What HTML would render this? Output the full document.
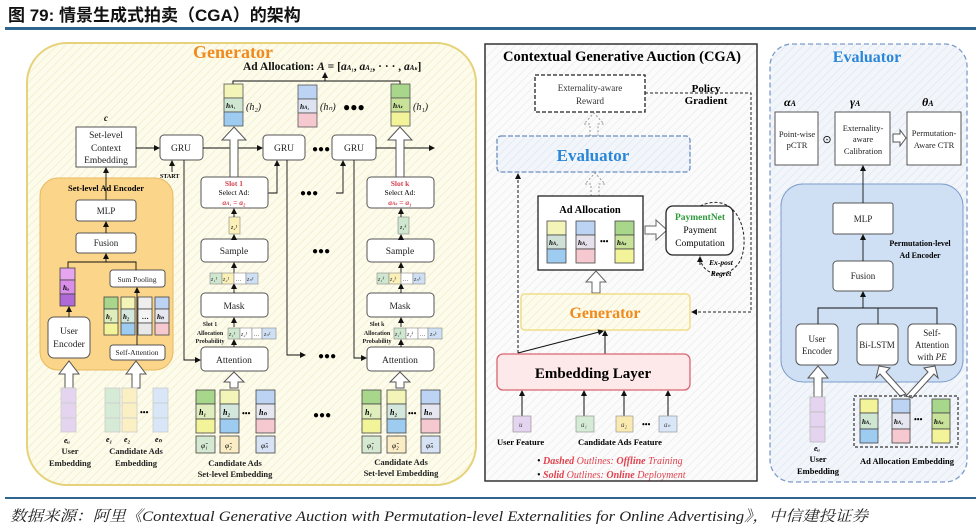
<!DOCTYPE html>
<html><head><meta charset="utf-8"><style>
html,body{margin:0;padding:0;background:#fff;width:976px;height:532px;overflow:hidden}
svg{display:block}
text{font-family:"Liberation Serif",serif}
</style></head><body>
<svg width="976" height="532" viewBox="0 0 976 532" xmlns="http://www.w3.org/2000/svg">
<defs>
<marker id="a" markerWidth="6" markerHeight="6" refX="5" refY="3" orient="auto" markerUnits="userSpaceOnUse"><path d="M0,0 L6,3 L0,6z" fill="#111"/></marker>
<pattern id="hy" width="6" height="6" patternUnits="userSpaceOnUse" patternTransform="rotate(45)"><rect width="6" height="6" fill="#fdfcec"/><line x1="0" y1="0" x2="0" y2="6" stroke="#f1ecc6" stroke-width="1.5"/></pattern>
<pattern id="hg" width="6" height="6" patternUnits="userSpaceOnUse" patternTransform="rotate(45)"><rect width="6" height="6" fill="#fbfbfb"/><line x1="0" y1="0" x2="0" y2="6" stroke="#ececec" stroke-width="1.5"/></pattern>
<pattern id="hb" width="6" height="6" patternUnits="userSpaceOnUse" patternTransform="rotate(45)"><rect width="6" height="6" fill="#f2f6fb"/><line x1="0" y1="0" x2="0" y2="6" stroke="#dfe7f2" stroke-width="1.5"/></pattern>
</defs>

<!-- header -->
<text x="8" y="21" font-weight="bold" font-size="17" fill="#111" style="font-family:'Liberation Sans','Noto Sans CJK SC',sans-serif">图 79: 情景生成式拍卖（CGA）的架构</text>
<rect x="5" y="27" width="971" height="3" fill="#2f6690"/>
<rect x="5" y="497" width="971" height="2" fill="#2f6690"/>
<text x="10" y="521" font-size="15" font-style="italic" fill="#222" textLength="858" lengthAdjust="spacingAndGlyphs" style="font-family:'Liberation Serif','Noto Serif CJK SC',serif">数据来源：阿里《Contextual Generative Auction with Permutation-level Externalities for Online Advertising》，中信建投证券</text>

<!-- ============ GENERATOR PANEL ============ -->
<rect x="27" y="43" width="449" height="442" rx="40" fill="url(#hy)" stroke="#e6d27a" stroke-width="2"/>
<text x="233" y="58" font-size="18" font-weight="bold" fill="#f08a1c" text-anchor="middle">Generator</text>
<text x="243" y="70" font-size="11.5" font-weight="bold" fill="#111">Ad Allocation: <tspan font-style="italic">A</tspan> = [<tspan font-style="italic">a</tspan><tspan font-size="7" font-style="italic">A₁</tspan>, <tspan font-style="italic">a</tspan><tspan font-size="7" font-style="italic">A₂</tspan>, · · · , <tspan font-style="italic">a</tspan><tspan font-size="7" font-style="italic">Aₖ</tspan>]</text>
<polyline points="233,84 233,81 400,81 400,84" fill="none" stroke="#111" stroke-width="1"/>
<line x1="325" y1="81" x2="325" y2="73" stroke="#111" marker-end="url(#a)"/>

<!-- top columns -->
<g stroke="#555" stroke-width="0.8">
<rect x="224" y="84" width="19" height="14" fill="#f3f4b8"/><rect x="224" y="98" width="19" height="14" fill="#cfe6d3"/><rect x="224" y="112" width="19" height="14" fill="#9ecbf0"/>
<rect x="298" y="85" width="19" height="14" fill="#bcd3f3"/><rect x="298" y="99" width="19" height="14" fill="#dde3f0"/><rect x="298" y="113" width="19" height="14" fill="#f6c9d1"/>
<rect x="391" y="84" width="19" height="14" fill="#a8d78c"/><rect x="391" y="98" width="19" height="14" fill="#c8e29a"/><rect x="391" y="112" width="19" height="14" fill="#f3f39a"/>
</g>
<g font-size="7.5" font-weight="bold" font-style="italic" fill="#111">
<text x="226" y="108">h<tspan font-size="5">A₁</tspan></text><text x="300" y="109">h<tspan font-size="5">A₂</tspan></text><text x="393" y="108">h<tspan font-size="5">Aₖ</tspan></text>
</g>
<g font-size="10" font-style="italic" fill="#111"><text x="246" y="110">(h₂)</text><text x="320" y="110">(hₙ)</text><text x="413" y="110">(h₁)</text></g>
<text x="343" y="111" font-size="12" font-weight="bold">●●●</text>

<!-- context + GRUs -->
<text x="104" y="121" font-size="9" font-weight="bold" font-style="italic">c</text>
<rect x="76" y="127" width="60" height="40" fill="#fff" stroke="#555"/>
<g font-size="9.5" text-anchor="middle" fill="#222"><text x="106" y="138">Set-level</text><text x="106" y="151">Context</text><text x="106" y="163">Embedding</text></g>
<g fill="#fff" stroke="#555"><rect x="160" y="135" width="43" height="25" rx="4"/><rect x="263" y="135" width="42" height="25" rx="4"/><rect x="332" y="135" width="44" height="25" rx="4"/></g>
<g font-size="9.5" text-anchor="middle" fill="#222"><text x="181" y="151">GRU</text><text x="284" y="151">GRU</text><text x="354" y="151">GRU</text></g>
<text x="312" y="152" font-size="10" font-weight="bold">●●●</text>
<g stroke="#111" stroke-width="0.9" fill="none" marker-end="url(#a)">
<line x1="136" y1="148" x2="159" y2="148"/><line x1="203" y1="148" x2="262" y2="148"/><line x1="376" y1="148" x2="434" y2="148"/>
<line x1="172" y1="172" x2="172" y2="161"/>
<polyline points="268,193 277,193 277,161"/><polyline points="336,193 343,193 343,161"/>
<polyline points="184,160 184,360 200,360"/><polyline points="287,160 287,355 305,355"/><polyline points="354,160 354,358 366,358"/>
</g>
<text x="160" y="178" font-size="6" font-weight="bold">START</text>

<!-- hollow arrows to top -->
<g fill="#fff" stroke="#555" stroke-width="1">
<polygon points="230,177 230,140 222,140 234,127 246,140 238,140 238,177"/>
<polygon points="396,177 396,140 388,140 400,127 412,140 404,140 404,177"/>
</g>

<!-- Slot boxes -->
<g fill="#fff" stroke="#555"><rect x="201" y="177" width="67" height="31" rx="4"/><rect x="367" y="177" width="67" height="31" rx="4"/></g>
<g font-size="7.5" text-anchor="middle">
<text x="234" y="186" fill="#d2404f" font-weight="bold">Slot 1</text><text x="234" y="195">Select Ad:</text><text x="234" y="205" fill="#d2404f" font-style="italic" font-weight="bold">a<tspan font-size="5">A₁</tspan> = a₂</text>
<text x="400" y="186" fill="#d2404f" font-weight="bold">Slot k</text><text x="400" y="195">Select Ad:</text><text x="400" y="205" fill="#d2404f" font-style="italic" font-weight="bold">a<tspan font-size="5">Aₖ</tspan> = a₁</text>
</g>
<text x="300" y="196" font-size="10" font-weight="bold">●●●</text>
<text x="312" y="254" font-size="10" font-weight="bold">●●●</text>
<g stroke="#888" stroke-width="0.6"><rect x="229" y="217" width="11" height="17" fill="#faf0b8"/><rect x="398" y="217" width="11" height="17" fill="#cfe6cf"/></g>
<g font-size="6" font-style="italic"><text x="231" y="229">z₂¹</text><text x="400" y="229">z₁ᵏ</text></g>

<!-- Sample/Mask/Attention both slots -->
<g fill="#fff" stroke="#555">
<rect x="201" y="239" width="67" height="23" rx="4"/><rect x="201" y="293" width="67" height="24" rx="4"/><rect x="201" y="347" width="67" height="24" rx="4"/>
<rect x="367" y="239" width="67" height="23" rx="4"/><rect x="367" y="293" width="67" height="24" rx="4"/><rect x="367" y="347" width="67" height="24" rx="4"/>
</g>
<g font-size="9.5" text-anchor="middle" fill="#222">
<text x="234" y="254">Sample</text><text x="234" y="309">Mask</text><text x="234" y="363">Attention</text>
<text x="400" y="254">Sample</text><text x="400" y="309">Mask</text><text x="400" y="363">Attention</text>
</g>
<g stroke="#111" stroke-width="0.9" marker-end="url(#a)">
<line x1="234" y1="217" x2="234" y2="209"/><line x1="234" y1="239" x2="234" y2="235"/><line x1="234" y1="273" x2="234" y2="263"/><line x1="234" y1="293" x2="234" y2="284"/><line x1="234" y1="327" x2="234" y2="318"/><line x1="234" y1="347" x2="234" y2="340"/>
<line x1="401" y1="217" x2="401" y2="209"/><line x1="401" y1="239" x2="401" y2="235"/><line x1="401" y1="273" x2="401" y2="263"/><line x1="401" y1="293" x2="401" y2="284"/><line x1="401" y1="327" x2="401" y2="318"/><line x1="401" y1="347" x2="401" y2="340"/>
</g>
<!-- z rows -->
<g stroke="#888" stroke-width="0.6">
<rect x="210" y="273" width="12" height="11" fill="#cfe6cf"/><rect x="222" y="273" width="12" height="11" fill="#faf0b8"/><rect x="234" y="273" width="12" height="11" fill="#fff"/><rect x="246" y="273" width="12" height="11" fill="#cfe0f5"/>
<rect x="228" y="328" width="12" height="11" fill="#cfe6cf"/><rect x="240" y="328" width="12" height="11" fill="#fff"/><rect x="252" y="328" width="10" height="11" fill="#fff"/><rect x="262" y="328" width="14" height="11" fill="#cfe0f5"/>
<rect x="377" y="273" width="12" height="11" fill="#cfe6cf"/><rect x="389" y="273" width="12" height="11" fill="#faf0b8"/><rect x="401" y="273" width="12" height="11" fill="#fff"/><rect x="413" y="273" width="12" height="11" fill="#cfe0f5"/>
<rect x="394" y="328" width="12" height="11" fill="#cfe6cf"/><rect x="406" y="328" width="12" height="11" fill="#fff"/><rect x="418" y="328" width="10" height="11" fill="#fff"/><rect x="428" y="328" width="14" height="11" fill="#cfe0f5"/>
</g>
<g font-size="6" font-style="italic" fill="#333">
<text x="211" y="281">z₁¹</text><text x="223" y="281">z₂¹</text><text x="236" y="281">…</text><text x="247" y="281">zₙ¹</text>
<text x="229" y="336">z₁¹</text><text x="241" y="336">z₂¹</text><text x="254" y="336">…</text><text x="264" y="336">zₙ¹</text>
<text x="378" y="281">z₁ᵏ</text><text x="390" y="281">z₂ᵏ</text><text x="403" y="281">…</text><text x="414" y="281">zₙᵏ</text>
<text x="395" y="336">z₁ᵏ</text><text x="407" y="336">z₂ᵏ</text><text x="420" y="336">…</text><text x="430" y="336">zₙᵏ</text>
</g>
<g font-size="6" font-weight="bold" text-anchor="middle" fill="#222">
<text x="210" y="326">Slot 1</text><text x="210" y="335">Allocation</text><text x="210" y="343">Probability</text>
<text x="377" y="326">Slot k</text><text x="377" y="335">Allocation</text><text x="377" y="343">Probability</text>
</g>
<text x="318" y="359" font-size="10" font-weight="bold">●●●</text>
<text x="313" y="418" font-size="10" font-weight="bold">●●●</text>

<!-- hollow arrows to attention -->
<g fill="#fff" stroke="#555">
<polygon points="230,388 230,382 224,382 234,372 244,382 238,382 238,388"/>
<polygon points="396,388 396,382 390,382 400,372 410,382 404,382 404,388"/>
</g>
<g stroke="#444" stroke-width="0.8">
<rect x="196" y="390" width="19" height="14" fill="#a8d78c"/><rect x="196" y="404" width="19" height="15" fill="#dfeebc"/><rect x="196" y="419" width="19" height="14" fill="#f3f39a"/>
<rect x="220" y="390" width="19" height="14" fill="#f3f4b8"/><rect x="220" y="404" width="19" height="15" fill="#d4e7dc"/><rect x="220" y="419" width="19" height="14" fill="#9ecbf0"/>
<rect x="256" y="390" width="19" height="14" fill="#bcd3f3"/><rect x="256" y="404" width="19" height="15" fill="#e6e6f0"/><rect x="256" y="419" width="19" height="14" fill="#f6c9d1"/>
<rect x="196" y="436" width="19" height="17" fill="#d5e8d2"/><rect x="220" y="436" width="19" height="17" fill="#faecc4"/><rect x="256" y="436" width="19" height="17" fill="#d7e3f5"/>
<rect x="362" y="390" width="19" height="14" fill="#a8d78c"/><rect x="362" y="404" width="19" height="15" fill="#dfeebc"/><rect x="362" y="419" width="19" height="14" fill="#f3f39a"/>
<rect x="387" y="390" width="19" height="14" fill="#f3f4b8"/><rect x="387" y="404" width="19" height="15" fill="#d4e7dc"/><rect x="387" y="419" width="19" height="14" fill="#9ecbf0"/>
<rect x="421" y="390" width="19" height="14" fill="#bcd3f3"/><rect x="421" y="404" width="19" height="15" fill="#e6e6f0"/><rect x="421" y="419" width="19" height="14" fill="#f6c9d1"/>
<rect x="362" y="436" width="19" height="17" fill="#d5e8d2"/><rect x="387" y="436" width="19" height="17" fill="#faecc4"/><rect x="421" y="436" width="19" height="17" fill="#d7e3f5"/>
</g>
<g font-size="8" font-weight="bold" font-style="italic">
<text x="199" y="415">h₁</text><text x="223" y="415">h₂</text><text x="259" y="415">hₙ</text>
<text x="365" y="415">h₁</text><text x="390" y="415">h₂</text><text x="424" y="415">hₙ</text>
</g>
<g font-size="7.5" font-style="italic"><text x="201" y="448">φ̃₁</text><text x="225" y="448">φ̃₂</text><text x="261" y="448">φ̃ₙ</text><text x="367" y="448">φ̃₁</text><text x="392" y="448">φ̃₂</text><text x="426" y="448">φ̃ₙ</text></g>
<text x="242" y="416" font-size="8" font-weight="bold">•••</text><text x="408" y="416" font-size="8" font-weight="bold">•••</text>
<g font-size="8.5" font-weight="bold" text-anchor="middle" fill="#222">
<text x="235" y="466">Candidate Ads</text><text x="235" y="477">Set-level Embedding</text>
<text x="401" y="465">Candidate Ads</text><text x="401" y="476">Set-level Embedding</text>
</g>

<!-- Set-level Ad Encoder -->
<rect x="40" y="178" width="133" height="192" rx="18" fill="#fad58a" stroke="#e8b860"/>
<text x="106" y="191" font-size="8.5" font-weight="bold" text-anchor="middle">Set-level Ad Encoder</text>
<g fill="#fff" stroke="#555"><rect x="76" y="200" width="60" height="21" rx="3"/><rect x="76" y="233" width="60" height="20" rx="3"/><rect x="110" y="270" width="55" height="17" rx="3"/><rect x="48" y="317" width="42" height="41" rx="6"/><rect x="110" y="345" width="55" height="15" rx="3"/></g>
<g font-size="9" text-anchor="middle" fill="#222"><text x="106" y="214">MLP</text><text x="106" y="246">Fusion</text><text x="69" y="334" font-size="9.5">User</text><text x="69" y="347" font-size="9.5">Encoder</text></g>
<g font-size="7.5" text-anchor="middle" fill="#222"><text x="137" y="282">Sum Pooling</text><text x="137" y="355">Self-Attention</text></g>
<g stroke="#111" stroke-width="0.9" fill="none">
<line x1="106" y1="233" x2="106" y2="222" marker-end="url(#a)"/><line x1="106" y1="200" x2="106" y2="168" marker-end="url(#a)"/>
<polyline points="68,268 68,262 136,262 136,270"/><line x1="106" y1="262" x2="106" y2="254" marker-end="url(#a)"/>
<line x1="69" y1="317" x2="69" y2="307" marker-end="url(#a)"/><line x1="137" y1="345" x2="137" y2="288" marker-end="url(#a)"/>
</g>
<g stroke="#444" stroke-width="0.8">
<rect x="60" y="268" width="15" height="12" fill="#e6a6ef"/><rect x="60" y="280" width="15" height="14" fill="#d98ee8"/><rect x="60" y="294" width="15" height="12" fill="#b06ad8"/>
<rect x="104" y="297" width="14" height="12" fill="#a8d78c"/><rect x="104" y="309" width="14" height="14" fill="#dfeebc"/><rect x="104" y="323" width="14" height="12" fill="#f3f39a"/>
<rect x="121" y="297" width="14" height="12" fill="#f3f4b8"/><rect x="121" y="309" width="14" height="14" fill="#d4e7dc"/><rect x="121" y="323" width="14" height="12" fill="#9ecbf0"/>
<rect x="138" y="297" width="14" height="12" fill="#eee"/><rect x="138" y="309" width="14" height="14" fill="#f4f4f4"/><rect x="138" y="323" width="14" height="12" fill="#e8e8e8"/>
<rect x="155" y="297" width="14" height="12" fill="#bcd3f3"/><rect x="155" y="309" width="14" height="14" fill="#e6e6f0"/><rect x="155" y="323" width="14" height="12" fill="#f6c9d1"/>
</g>
<g font-size="7" font-weight="bold" font-style="italic"><text x="63" y="290">hᵤ</text><text x="106" y="319">h₁</text><text x="123" y="319">h₂</text><text x="142" y="319">…</text><text x="157" y="319">hₙ</text></g>
<g fill="#fff" stroke="#555">
<polygon points="65,388 65,374 59,374 69,361 79,374 73,374 73,388"/>
<polygon points="132,388 132,374 126,374 136,361 146,374 140,374 140,388"/>
</g>
<g stroke="#ccc" stroke-width="0.8">
<rect x="61" y="388" width="15" height="15" fill="#e4d4ef"/><rect x="61" y="403" width="15" height="15" fill="#e4d4ef"/><rect x="61" y="418" width="15" height="14" fill="#e4d4ef"/>
<rect x="105" y="388" width="15" height="15" fill="#d6ebd6"/><rect x="105" y="403" width="15" height="15" fill="#d6ebd6"/><rect x="105" y="418" width="15" height="14" fill="#d6ebd6"/>
<rect x="122" y="388" width="15" height="15" fill="#fbf0c4"/><rect x="122" y="403" width="15" height="15" fill="#fbf0c4"/><rect x="122" y="418" width="15" height="14" fill="#fbf0c4"/>
<rect x="153" y="388" width="15" height="15" fill="#d8e6f8"/><rect x="153" y="403" width="15" height="15" fill="#d8e6f8"/><rect x="153" y="418" width="15" height="14" fill="#d8e6f8"/>
</g>
<text x="140" y="415" font-size="8" font-weight="bold">•••</text>
<g font-size="8" font-weight="bold" font-style="italic"><text x="64" y="443">eᵤ</text><text x="106" y="442">e₁</text><text x="124" y="442">e₂</text><text x="155" y="442">eₙ</text></g>
<g font-size="8.5" font-weight="bold" text-anchor="middle" fill="#222"><text x="70" y="454">User</text><text x="70" y="466">Embedding</text><text x="136" y="454">Candidate Ads</text><text x="136" y="466">Embedding</text></g>

<!-- ============ CGA PANEL ============ -->
<rect x="485" y="44" width="272" height="437" fill="url(#hg)" stroke="#333" stroke-width="1.5"/>
<text x="622" y="61" font-size="14.5" font-weight="bold" text-anchor="middle">Contextual Generative Auction (CGA)</text>
<rect x="535" y="75" width="110" height="37" fill="#fff" stroke="#222" stroke-dasharray="4,2" stroke-width="1.3"/>
<text x="590" y="91" font-size="9" text-anchor="middle" fill="#333">Externality-aware</text><text x="590" y="104" font-size="9" text-anchor="middle" fill="#333">Reward</text>
<text x="706" y="92" font-size="11" font-weight="bold" text-anchor="middle">Policy</text><text x="706" y="104" font-size="11" font-weight="bold" text-anchor="middle">Gradient</text>
<polyline points="645,93 751,93 751,312 692,312" fill="none" stroke="#222" stroke-dasharray="3,2" marker-end="url(#a)"/>
<g fill="none" stroke="#999" stroke-dasharray="2,2"><polygon points="590,136 590,124 584,124 594,113 604,124 598,124 598,136"/><polygon points="591,196 591,184 585,184 595,173 605,184 599,184 599,196"/></g>
<rect x="497" y="136" width="193" height="36" rx="4" fill="url(#hb)" stroke="#6c8ebf" stroke-dasharray="5,2" stroke-width="1.3"/>
<text x="593" y="161" font-size="17" font-weight="bold" fill="#2a86d8" text-anchor="middle">Evaluator</text>
<rect x="538" y="196" width="105" height="74" fill="#fff" stroke="#222" stroke-width="1.3"/>
<text x="590" y="213" font-size="10.5" font-weight="bold" text-anchor="middle">Ad Allocation</text>
<g stroke="#444" stroke-width="0.8">
<rect x="547" y="221" width="19" height="14" fill="#f3f4b8"/><rect x="547" y="235" width="19" height="14" fill="#cfe0d8"/><rect x="547" y="249" width="19" height="14" fill="#9ecbf0"/>
<rect x="576" y="221" width="19" height="14" fill="#bcd3f3"/><rect x="576" y="235" width="19" height="14" fill="#e6e0ea"/><rect x="576" y="249" width="19" height="14" fill="#f6c9d1"/>
<rect x="615" y="221" width="19" height="14" fill="#a8d78c"/><rect x="615" y="235" width="19" height="14" fill="#c8e29a"/><rect x="615" y="249" width="19" height="14" fill="#f3f39a"/>
</g>
<g font-size="7" font-weight="bold" font-style="italic"><text x="549" y="245">h<tspan font-size="5">A₁</tspan></text><text x="578" y="245">h<tspan font-size="5">A₂</tspan></text><text x="617" y="245">h<tspan font-size="5">Aₖ</tspan></text></g>
<text x="600" y="244" font-size="8" font-weight="bold">•••</text>
<polygon points="645,226 656,226 656,220 667,230 656,240 656,234 645,234" fill="#fff" stroke="#666"/>
<path d="M700,206 C735,190 750,230 742,256 C735,280 700,280 700,255" fill="none" stroke="#222" stroke-dasharray="3,2"/>
<rect x="666" y="206" width="67" height="49" rx="7" fill="#fff" stroke="#222" stroke-width="1.3"/>
<text x="700" y="220" font-size="9.5" font-weight="bold" fill="#2e9b3a" text-anchor="middle">PaymentNet</text>
<text x="700" y="233" font-size="9.5" text-anchor="middle">Payment</text><text x="700" y="246" font-size="9.5" text-anchor="middle">Computation</text>
<line x1="700" y1="265" x2="700" y2="257" stroke="#111" marker-end="url(#a)"/>
<text x="721" y="265" font-size="7.5" font-weight="bold" font-style="italic" text-anchor="middle">Ex-post</text><text x="721" y="276" font-size="7.5" font-weight="bold" font-style="italic" text-anchor="middle">Regret</text>
<polygon points="592,293 592,282 586,282 596,271 606,282 600,282 600,293" fill="#fff" stroke="#666"/>
<rect x="521" y="294" width="169" height="36" rx="4" fill="url(#hy)" stroke="#f0dd8a" stroke-width="1.5"/>
<text x="605" y="318" font-size="16" font-weight="bold" fill="#f08a1c" text-anchor="middle">Generator</text>
<g stroke="#111" stroke-width="1" fill="none">
<line x1="518" y1="353" x2="518" y2="174" stroke-dasharray="3,2" marker-end="url(#a)"/>
<line x1="518" y1="353" x2="603" y2="331" marker-end="url(#a)"/>
<line x1="605" y1="354" x2="605" y2="331" marker-end="url(#a)"/>
<line x1="522" y1="416" x2="522" y2="391" marker-end="url(#a)"/><line x1="584" y1="416" x2="584" y2="391" marker-end="url(#a)"/><line x1="624" y1="416" x2="624" y2="391" marker-end="url(#a)"/><line x1="668" y1="416" x2="668" y2="391" marker-end="url(#a)"/>
</g>
<rect x="497" y="354" width="193" height="36" rx="6" fill="#fde8ea" stroke="#d9646f" stroke-width="1.3"/>
<text x="593" y="378" font-size="15" font-weight="bold" text-anchor="middle">Embedding Layer</text>
<g stroke="#999" stroke-width="0.7"><rect x="513" y="416" width="18" height="16" fill="#e4d4ef"/><rect x="576" y="416" width="18" height="16" fill="#d6ebd6"/><rect x="616" y="416" width="17" height="16" fill="#fbeab0"/><rect x="659" y="416" width="18" height="16" fill="#d8e6f8"/></g>
<g font-size="7" font-style="italic" fill="#444"><text x="519" y="427">u</text><text x="581" y="427">a₁</text><text x="621" y="427">a₂</text><text x="664" y="427">aₙ</text></g>
<text x="642" y="427" font-size="8" font-weight="bold">•••</text>
<text x="497" y="445" font-size="8.5" font-weight="bold">User Feature</text><text x="578" y="445" font-size="8.5" font-weight="bold">Candidate Ads Feature</text>
<g font-size="10" font-style="italic" fill="#e0414d"><text x="537" y="464"><tspan fill="#111">•</tspan>  <tspan font-weight="bold">Dashed</tspan> Outlines: <tspan font-weight="bold">Offline</tspan> Training</text><text x="537" y="478"><tspan fill="#111">•</tspan>  <tspan font-weight="bold">Solid</tspan> Outlines: <tspan font-weight="bold">Online</tspan> Deployment</text></g>

<!-- ============ EVALUATOR PANEL ============ -->
<rect x="770" y="44" width="197" height="438" rx="22" fill="url(#hb)" stroke="#7d9cc9" stroke-dasharray="5,3" stroke-width="1.3"/>
<text x="867" y="62" font-size="16" font-weight="bold" fill="#2a86d8" text-anchor="middle">Evaluator</text>
<g font-size="12" font-weight="bold" font-style="italic"><text x="784" y="106">α<tspan font-size="8">A</tspan></text><text x="850" y="106">γ<tspan font-size="8">A</tspan></text><text x="922" y="106">θ<tspan font-size="8">A</tspan></text></g>
<g fill="#fff" stroke="#555"><rect x="775" y="112" width="43" height="53"/><rect x="835" y="112" width="55" height="53"/><rect x="907" y="112" width="54" height="53"/></g>
<g font-size="8.5" text-anchor="middle" fill="#222">
<text x="797" y="137">Point-wise</text><text x="797" y="148">pCTR</text>
<text x="863" y="131">Externality-</text><text x="863" y="142">aware</text><text x="863" y="154">Calibration</text>
<text x="934" y="136">Permutation-</text><text x="934" y="148">Aware CTR</text>
</g>
<text x="827" y="143" font-size="11" text-anchor="middle">⊙</text>
<polygon points="893,134 900,134 900,130 906,138 900,146 900,142 893,142" fill="#fff" stroke="#555"/>
<rect x="781" y="184" width="182" height="198" rx="22" fill="#cfe0f5" stroke="#7d9cc9"/>
<g fill="#fff" stroke="#555"><rect x="833" y="203" width="60" height="31" rx="2"/><rect x="833" y="261" width="60" height="30" rx="4"/>
<rect x="796" y="324" width="42" height="41" rx="5"/><rect x="857" y="324" width="41" height="41" rx="5"/><rect x="908" y="324" width="48" height="41" rx="5"/></g>
<g font-size="9" text-anchor="middle" fill="#222"><text x="863" y="222">MLP</text><text x="863" y="279">Fusion</text>
<text x="817" y="342">User</text><text x="817" y="354">Encoder</text><text x="877" y="348">Bi-LSTM</text>
<text x="932" y="336">Self-</text><text x="932" y="348">Attention</text><text x="932" y="360">with <tspan font-style="italic">PE</tspan></text></g>
<text x="920" y="246" font-size="8" font-weight="bold" text-anchor="middle">Permutation-level</text><text x="920" y="258" font-size="8" font-weight="bold" text-anchor="middle">Ad Encoder</text>
<g stroke="#111" stroke-width="0.9" fill="none">
<line x1="863" y1="203" x2="863" y2="166" marker-end="url(#a)"/><line x1="863" y1="261" x2="863" y2="235" marker-end="url(#a)"/>
<polyline points="818,324 818,308 937,308 937,324"/><line x1="878" y1="324" x2="878" y2="308"/><line x1="863" y1="308" x2="863" y2="292" marker-end="url(#a)"/>
</g>
<polygon points="814,397 814,378 808,378 818,366 828,378 822,378 822,397" fill="#fff" stroke="#555"/>
<g fill="#fff" stroke="#555">
<polygon points="900,396 880,374 876,378 879,366 890,368 886,372 906,394"/>
<polygon points="906,396 928,372 924,368 935,366 938,378 934,374 912,398"/>
</g>
<g stroke="#bbb" stroke-width="0.8"><rect x="810" y="397" width="15" height="15" fill="#e4d4ef"/><rect x="810" y="412" width="15" height="15" fill="#e4d4ef"/><rect x="810" y="427" width="15" height="15" fill="#e4d4ef"/></g>
<rect x="854" y="396" width="104" height="51" fill="none" stroke="#333" stroke-dasharray="3,2" stroke-width="1.2"/>
<g stroke="#444" stroke-width="0.8">
<rect x="860" y="399" width="18" height="14" fill="#f3f39a"/><rect x="860" y="413" width="18" height="16" fill="#cfe6d3"/><rect x="860" y="429" width="18" height="14" fill="#9ecbf0"/>
<rect x="892" y="399" width="18" height="14" fill="#bcd3f3"/><rect x="892" y="413" width="18" height="16" fill="#e6e6f0"/><rect x="892" y="429" width="18" height="14" fill="#f6c9d1"/>
<rect x="932" y="399" width="18" height="14" fill="#a8d78c"/><rect x="932" y="413" width="18" height="16" fill="#c8e29a"/><rect x="932" y="429" width="18" height="14" fill="#f3f39a"/>
</g>
<g font-size="7" font-weight="bold" font-style="italic"><text x="862" y="424">h<tspan font-size="5">A₁</tspan></text><text x="894" y="424">h<tspan font-size="5">A₂</tspan></text><text x="934" y="424">h<tspan font-size="5">Aₖ</tspan></text></g>
<text x="914" y="422" font-size="8" font-weight="bold">•••</text>
<text x="814" y="451" font-size="8" font-weight="bold" font-style="italic">eᵤ</text>
<g font-size="8.5" font-weight="bold" text-anchor="middle"><text x="818" y="462">User</text><text x="818" y="474">Embedding</text><text x="907" y="464">Ad Allocation Embedding</text></g>
</svg>
</body></html>
